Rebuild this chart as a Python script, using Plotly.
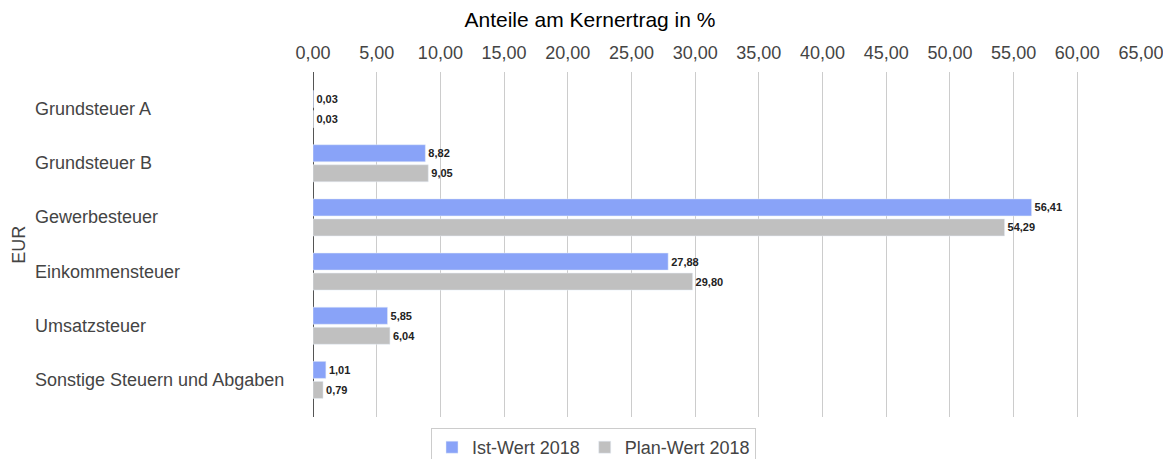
import plotly.graph_objects as go

categories = ["Grundsteuer A", "Grundsteuer B", "Gewerbesteuer", "Einkommensteuer",
              "Umsatzsteuer", "Sonstige Steuern und Abgaben"]
ist_2018 = [0.03, 8.82, 56.41, 27.88, 5.85, 1.01]
plan_2018 = [0.03, 9.05, 54.29, 29.80, 6.04, 0.79]
tick_vals = [0, 5, 10, 15, 20, 25, 30, 35, 40, 45, 50, 55, 60, 65]
tick_text = ["0,00", "5,00", "10,00", "15,00", "20,00", "25,00", "30,00", "35,00",
             "40,00", "45,00", "50,00", "55,00", "60,00", "65,00"]

FONT = "Liberation Sans, Arial"

fig = go.Figure()
fig.add_trace(go.Bar(
    y=categories, x=ist_2018, orientation="h", name="Ist-Wert 2018",
    marker=dict(color="#89a3f8"),
    texttemplate="<b>%{x:.2f}</b>", textposition="outside", cliponaxis=False,
    textfont=dict(size=11, color="#222222", family=FONT)))
fig.add_trace(go.Bar(
    y=categories, x=plan_2018, orientation="h", name="Plan-Wert 2018",
    marker=dict(color="#c0c0c0"),
    texttemplate="<b>%{x:.2f}</b>", textposition="outside", cliponaxis=False,
    textfont=dict(size=11, color="#222222", family=FONT)))

annotations = []
for c in categories:
    annotations.append(dict(xref="paper", yref="y", x=-0.338, y=c, text=c,
                            xanchor="left", yanchor="middle", showarrow=False,
                            font=dict(size=18, color="#444444", family=FONT)))
annotations.append(dict(xref="paper", yref="paper", x=-0.356, y=0.5, text="EUR",
                        textangle=-90, xanchor="center", yanchor="middle", showarrow=False,
                        font=dict(size=18, color="#444444", family=FONT)))

fig.update_layout(
    width=1171, height=459,
    paper_bgcolor="white", plot_bgcolor="white",
    separators=",.",
    barmode="group", bargap=0.26, bargroupgap=0.15,
    margin=dict(l=305, r=38, t=64, b=50, autoexpand=False),
    title=dict(text="Anteile am Kernertrag in %", x=0.497, xref="container", xanchor="center",
               y=0.975, yanchor="middle",
               font=dict(size=21, color="#000000", family=FONT)),
    xaxis=dict(side="top", range=[0, 65], tickvals=tick_vals, ticktext=tick_text,
               showgrid=True, gridcolor="#cccccc", gridwidth=1,
               zeroline=True, zerolinecolor="#555555", zerolinewidth=1,
               showline=False, ticks="", automargin=False, ticklabelstandoff=8,
               tickfont=dict(size=18, color="#444444", family=FONT)),
    yaxis=dict(autorange=False, range=[5.685, -0.685], showticklabels=False,
               showgrid=False, zeroline=False, ticks="", automargin=False),
    legend=dict(orientation="h", x=0.5, xref="container", xanchor="center",
                y=0.0, yref="container", yanchor="bottom",
                bordercolor="#cccccc", borderwidth=1,
                font=dict(size=18, color="#444444", family=FONT)),
    annotations=annotations,
    showlegend=True,
)

fig.write_html("out.html")
